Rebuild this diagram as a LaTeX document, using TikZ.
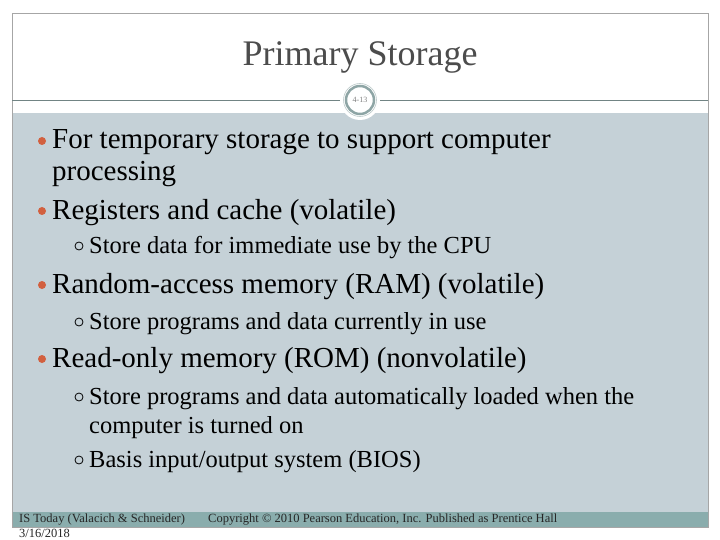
\documentclass[tikz,border=0pt]{standalone}
\usepackage{fontspec}
\setmainfont{Liberation Serif}
\begin{document}
\begin{tikzpicture}[x=1pt,y=-1pt,
  lone/.style={anchor=base west,font=\fontsize{29}{34}\selectfont,text=black,inner sep=0},
  ltwo/.style={anchor=base west,font=\fontsize{24.5}{28}\selectfont,text=black,inner sep=0},
  foot/.style={anchor=base west,font=\fontsize{12.5}{14}\selectfont,text=black!85,inner sep=0}]
\useasboundingbox (0,0) rectangle (720,540);
\fill[white] (0,0) rectangle (720,540);
\definecolor{bodyg}{HTML}{C5D1D7}
\definecolor{footg}{HTML}{8AADAD}
\definecolor{ring}{HTML}{8EA5A5}
\definecolor{bul}{HTML}{D2603F}
\fill[bodyg] (12,113) rectangle (708,512);
\fill[footg] (12,512) rectangle (708,527);
\draw[gray!70,line width=0.8] (12,13) rectangle (708,527);
\draw[ring!80!black,line width=0.8] (12,100) -- (708,100);
\fill[white] (360,100) circle (20);
\draw[ring,line width=2.5] (360,100) circle (14);
\draw[ring!60,line width=0.6] (360,100) circle (16.5);
\node[font=\fontsize{8}{9}\selectfont,text=gray] (pg) at (360,100) {4-13};
\node[font=\fontsize{36}{40}\selectfont,text=black!70] (title) at (360,57) {Primary Storage};
\foreach \y in {141,211,285,359} \fill[bul] (42,\y) circle (4);
\foreach \y in {246,322,397,460} \draw[black,line width=0.8] (79,\y) circle (4);
\node[lone] (a1) at (52,149) {For temporary storage to support computer};
\node[lone] (a2) at (52,181) {processing};
\node[lone] (b) at (52,219) {Registers and cache (volatile)};
\node[ltwo] (b1) at (89,253) {Store data for immediate use by the CPU};
\node[lone] (c) at (52,293) {Random-access memory (RAM) (volatile)};
\node[ltwo] (c1) at (89,329) {Store programs and data currently in use};
\node[lone] (d) at (52,367) {Read-only memory (ROM) (nonvolatile)};
\node[ltwo] (d1) at (89,404) {Store programs and data automatically loaded when the};
\node[ltwo] (d2) at (89,433) {computer is turned on};
\node[ltwo] (d3) at (89,467) {Basis input/output system (BIOS)};
\node[foot] (f1) at (19,522) {IS Today (Valacich \& Schneider)};
\node[foot] (f2) at (208,522) {Copyright © 2010 Pearson Education, Inc. Published as Prentice Hall};
\node[foot] (f3) at (19,537) {3/16/2018};
\end{tikzpicture}
\end{document}
